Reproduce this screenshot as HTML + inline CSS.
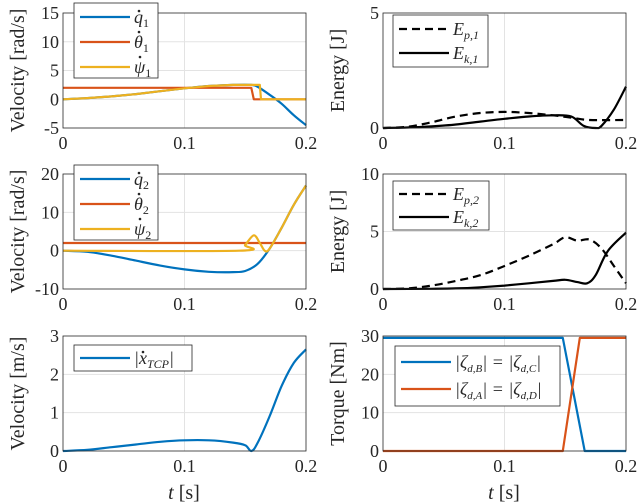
<!DOCTYPE html>
<html><head><meta charset="utf-8"><style>
body{margin:0;background:#fff;}
svg{display:block;font-family:"Liberation Serif","DejaVu Serif",serif;}
text,tspan{font-family:"Liberation Serif","DejaVu Serif",serif;}
</style></head><body>
<svg id="fig" width="640" height="504" viewBox="0 0 640 504" font-family="Liberation Serif, DejaVu Serif, serif"></svg>
<script>
// Data arrays
const t1 = [0,0.02,0.04,0.06,0.08,0.1,0.12,0.14,0.155,0.16,0.17,0.18,0.19,0.2];
const q1 = [0,0.2,0.5,0.9,1.4,1.9,2.3,2.5,2.5,2.2,0.8,-0.8,-2.8,-4.5];
const tTh1 = [0,0.155,0.157,0.2];
const th1 = [2,2,0,0];
const tPs1 = [0,0.02,0.04,0.06,0.08,0.1,0.12,0.14,0.162,0.163,0.2];
const ps1 = [0,0.2,0.5,0.9,1.4,1.9,2.3,2.5,2.5,0,0];
const t2 = [0,0.02,0.04,0.06,0.08,0.1,0.12,0.14,0.15,0.16,0.17,0.18,0.19,0.2];
const q2 = [0,-0.3,-1.3,-2.6,-3.9,-4.9,-5.5,-5.6,-5.3,-3.5,0.5,6,12,17];
const tTh2 = [0,0.2];
const th2 = [2,2];
const tPs2 = [0,0.145,0.15,0.157,0.162,0.166,0.17,0.18,0.19,0.2];
const ps2 = [0,0,1.5,4,2,0,0.5,6,12,17];
const tE1 = [0,0.02,0.04,0.06,0.08,0.1,0.12,0.14,0.155,0.17,0.2];
const ep1 = [0,0.05,0.25,0.5,0.65,0.7,0.65,0.55,0.45,0.35,0.35];
const tK1 = [0,0.02,0.04,0.06,0.08,0.1,0.12,0.14,0.155,0.165,0.175,0.18,0.19,0.2];
const ek1 = [0,0.02,0.07,0.15,0.28,0.4,0.5,0.55,0.5,0.1,0,0.1,0.8,1.8];
const tE2 = [0,0.02,0.04,0.06,0.08,0.1,0.12,0.14,0.15,0.16,0.17,0.18,0.19,0.2];
const ep2 = [0,0.05,0.3,0.7,1.2,2.0,2.9,3.9,4.5,4.2,4.3,3.5,2.0,0.5];
const tK2 = [0,0.04,0.06,0.08,0.1,0.12,0.14,0.15,0.16,0.168,0.175,0.185,0.2];
const ek2 = [0,0.02,0.05,0.15,0.3,0.5,0.7,0.8,0.6,0.5,1.2,3.3,4.9];
const tX = [0,0.02,0.04,0.06,0.08,0.1,0.12,0.14,0.15,0.155,0.16,0.17,0.18,0.19,0.2];
const xTcp = [0,0.03,0.1,0.17,0.24,0.28,0.28,0.22,0.15,0,0.2,0.9,1.7,2.3,2.65];
const tBC = [0,0.148,0.166,0.2];
const tauBC = [29.5,29.5,0,0];
const tAD = [0,0.148,0.162,0.2];
const tauAD = [0,0,29.5,29.5];
const xTicks = [0,0.1,0.2];
const xTickLabels = ["0","0.1","0.2"];

const NS="http://www.w3.org/2000/svg";
const FF='"Liberation Serif", "DejaVu Serif", serif';
const svg=document.getElementById('fig');
function mk(tag,attrs,parent){const e=document.createElementNS(NS,tag);for(const k in attrs)e.setAttribute(k,attrs[k]);if(tag==='text')e.style.fontFamily=FF;(parent||svg).appendChild(e);return e;}
const BLUE="#0072BD",RED="#D95319",YEL="#EDB120";

function pathD(P,smooth){
  if(!smooth) return P.map((p,i)=>(i?'L':'M')+p[0].toFixed(1)+','+p[1].toFixed(1)).join('');
  let d='M'+P[0][0].toFixed(1)+','+P[0][1].toFixed(1);
  for(let i=0;i<P.length-1;i++){
    const p0=P[i-1]||P[i],p1=P[i],p2=P[i+1],p3=P[i+2]||P[i+1];
    const c1=[p1[0]+(p2[0]-p0[0])/6,p1[1]+(p2[1]-p0[1])/6];
    const c2=[p2[0]-(p3[0]-p1[0])/6,p2[1]-(p3[1]-p1[1])/6];
    d+='C'+c1[0].toFixed(1)+','+c1[1].toFixed(1)+' '+c2[0].toFixed(1)+','+c2[1].toFixed(1)+' '+p2[0].toFixed(1)+','+p2[1].toFixed(1);
  }
  return d;
}

function panel(o){
  const g=mk('g',{});
  
  
  const L=o.x,R=o.x+243,T=o.y,B=o.y+115;
  const sx=v=>L+(v-0)/0.2*(R-L);
  const sy=v=>B-(v-o.ymin)/(o.ymax-o.ymin)*(B-T);
  mk('rect',{x:L,y:T,width:R-L,height:B-T,fill:'#fff'},g);
  xTicks.forEach((v,i)=>{
    if(v>0&&v<0.2) mk('line',{x1:sx(v),x2:sx(v),y1:T,y2:B,stroke:'#e3e3e3','stroke-width':1},g);
    const tx=mk('text',{x:sx(v),y:B+21,'font-size':18,'text-anchor':'middle',fill:'#262626'},g);
    tx.textContent=xTickLabels[i];
    
    
  });
  o.yt.forEach(v=>{
    if(v>o.ymin&&v<o.ymax) mk('line',{x1:L,x2:R,y1:sy(v),y2:sy(v),stroke:'#e3e3e3','stroke-width':1},g);
    const tx=mk('text',{x:L-4,y:sy(v)+6,'font-size':18,'text-anchor':'end',fill:'#262626'},g);
    tx.textContent=String(v);
    
    
  });
  o.series.forEach(s=>{
    const P=s.t.map((tv,i)=>[sx(tv),sy(s.v[i])]);
    const p=mk('path',{d:pathD(P,s.smooth),fill:'none',stroke:s.c,'stroke-width':2.2,'stroke-dasharray':s.dash||'none','stroke-linejoin':'round'},g);
    
    
  });
  mk('rect',{x:L,y:T,width:R-L,height:B-T,fill:'none',stroke:'#262626','stroke-width':0.8},g);
  const yl=mk('text',{x:0,y:0,'font-size':20,'text-anchor':'middle',fill:'#262626',transform:`translate(${L-39},${(T+B)/2}) rotate(-90)`},g);
  yl.textContent=o.ylabel;
  
  
  const lg=o.leg;
  const lb=mk('g',{},g);
  
  
  mk('rect',{x:lg.x,y:lg.y,width:lg.w,height:lg.h,fill:'#fff',stroke:'#262626','stroke-width':0.8},lb);
  lg.items.forEach((it,i)=>{
    const yy=lg.y+lg.pad+i*lg.dy;
    mk('line',{x1:lg.x+6,x2:lg.x+6+lg.ll,y1:yy,y2:yy,stroke:it.c,'stroke-width':2.2,'stroke-dasharray':it.dash||'none'},lb);
    const tx=mk('text',{x:lg.x+10+lg.ll,y:yy+6,'font-size':18,'font-style':'italic',fill:'#262626'},lb);
    tx.innerHTML=it.label;
    
    
    if(it.dot){mk('circle',{cx:lg.x+10+lg.ll+it.dot[0],cy:yy+it.dot[1],r:1.3,fill:'#262626'},lb);}
  });
}
const sub=(a)=>`<tspan>${a[0]}</tspan><tspan font-size="12" dy="4" font-style="normal">${a[1]}</tspan>`;
const subi=(a)=>`<tspan>${a[0]}</tspan><tspan font-size="12" dy="4">${a[1]}</tspan>`;
panel({name:'joint1-velocity-plot',x:63,y:13,ymin:-5,ymax:15,yt:[-5,0,5,10,15],ylabel:'Velocity [rad/s]',
  series:[{t:t1,v:q1,c:BLUE,n:'q1-line',smooth:1},{t:tTh1,v:th1,c:RED,n:'theta1-line'},{t:tPs1,v:ps1,c:YEL,n:'psi1-line'}],
  leg:{x:74,y:3,w:84,h:75,pad:14,dy:25,ll:50,items:[{c:BLUE,label:sub(['q','1']),dot:[5,-6]},{c:RED,label:sub(['θ','1']),dot:[5,-10]},{c:YEL,label:sub(['ψ','1']),dot:[6,-10]}]}});
panel({name:'energy1-plot',x:383,y:13,ymin:0,ymax:5,yt:[0,5],ylabel:'Energy [J]',
  series:[{t:tE1,v:ep1,c:'#000',n:'ep1-line',dash:'8,5',smooth:1},{t:tK1,v:ek1,c:'#000',n:'ek1-line',smooth:1}],
  leg:{x:393,y:15,w:95,h:52,pad:14,dy:24,ll:50,items:[{c:'#000',dash:'8,5',label:subi(['E','p,1'])},{c:'#000',label:subi(['E','k,1'])}]}});
panel({name:'joint2-velocity-plot',x:63,y:174,ymin:-10,ymax:20,yt:[-10,0,10,20],ylabel:'Velocity [rad/s]',
  series:[{t:t2,v:q2,c:BLUE,n:'q2-line',smooth:1},{t:tTh2,v:th2,c:RED,n:'theta2-line'},{t:tPs2,v:ps2,c:YEL,n:'psi2-line',smooth:1}],
  leg:{x:74,y:165,w:84,h:75,pad:14,dy:25,ll:50,items:[{c:BLUE,label:sub(['q','2']),dot:[5,-6]},{c:RED,label:sub(['θ','2']),dot:[5,-10]},{c:YEL,label:sub(['ψ','2']),dot:[6,-10]}]}});
panel({name:'energy2-plot',x:383,y:174,ymin:0,ymax:10,yt:[0,5,10],ylabel:'Energy [J]',
  series:[{t:tE2,v:ep2,c:'#000',n:'ep2-line',dash:'8,5',smooth:1},{t:tK2,v:ek2,c:'#000',n:'ek2-line',smooth:1}],
  leg:{x:393,y:181,w:96,h:49,pad:13,dy:23,ll:50,items:[{c:'#000',dash:'8,5',label:subi(['E','p,2'])},{c:'#000',label:subi(['E','k,2'])}]}});
panel({name:'tcp-velocity-plot',x:63,y:336,ymin:0,ymax:3,yt:[0,1,2,3],ylabel:'Velocity [m/s]',
  series:[{t:tX,v:xTcp,c:BLUE,n:'xtcp-line',smooth:1}],
  leg:{x:74,y:345,w:118,h:26,pad:13,dy:24,ll:50,items:[{c:BLUE,label:'|'+subi(['x','TCP'])+'<tspan dy="-4">|</tspan>',dot:[9,-6]}]}});
panel({name:'torque-plot',x:383,y:336,ymin:0,ymax:30,yt:[0,10,20,30],ylabel:'Torque [Nm]',
  series:[{t:tBC,v:tauBC,c:BLUE,n:'tau-bc-line'},{t:tAD,v:tauAD,c:RED,n:'tau-ad-line'}],
  leg:{x:395,y:346,w:165,h:60,pad:16,dy:27,ll:50,items:[{c:BLUE,label:'|ζ<tspan font-size="11" dy="4">d,B</tspan><tspan dy="-4">| = |ζ</tspan><tspan font-size="11" dy="4">d,C</tspan><tspan dy="-4">|</tspan>'},{c:RED,label:'|ζ<tspan font-size="11" dy="4">d,A</tspan><tspan dy="-4">| = |ζ</tspan><tspan font-size="11" dy="4">d,D</tspan><tspan dy="-4">|</tspan>'}]}});
[63,383].forEach(x=>{
  const tx=mk('text',{x:x+121,y:499,'font-size':20,'text-anchor':'middle',fill:'#262626'});
  tx.innerHTML='<tspan font-style="italic">t</tspan> [s]';
  
  
});
</script>
</body></html>
